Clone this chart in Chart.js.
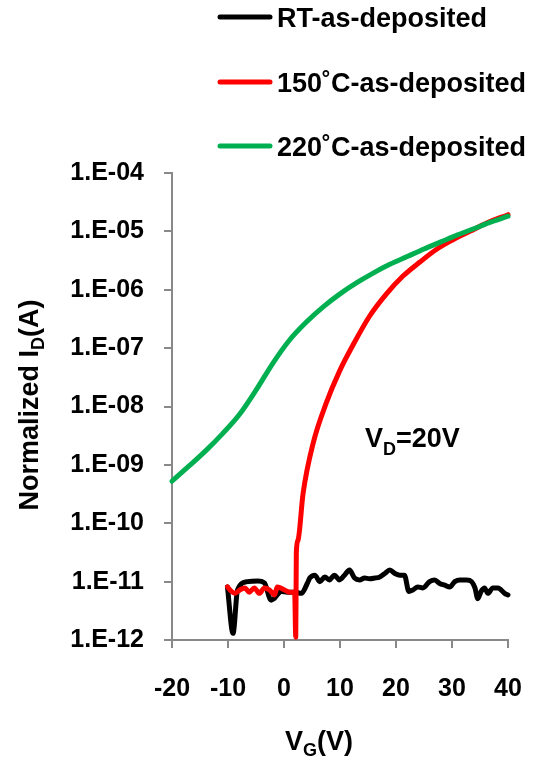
<!DOCTYPE html>
<html>
<head>
<meta charset="utf-8">
<script src="https://cdn.jsdelivr.net/npm/chart.js@4.4.1/dist/chart.umd.min.js"></script>
<style>
  body { margin: 0; background: #fff; }
  #wrap { width: 535px; height: 765px; position: relative; }
</style>
</head>
<body>
<div id="wrap"><canvas id="myChart"></canvas></div>
<script>
const seriesNames = ["RT-as-deposited", "150˚C-as-deposited", "220˚C-as-deposited"]
const seriesColors = ["#000000", "#ff0000", "#00b050"]

// RT-as-deposited
const vgRT = [-10.1, -9.1, -8.3, -6.5, -4.7, -3.5, -2.3, -1.7, -0.5, 0.6, 1.9, 3.1, 4.2, 4.6, 5.5,
  6.4, 7.3, 8.1, 9.0, 9.9, 10.8, 11.7, 12.6, 13.5, 14.4, 15.3, 16.2, 17.1, 18.0, 18.9, 19.8,
  20.7, 21.5, 22.3, 23.0, 23.9, 24.8, 26.0, 26.9, 27.8, 28.7, 29.6, 30.5, 31.4, 32.6, 33.5,
  34.1, 34.6, 35.2, 35.8, 36.4, 37.3, 38.2, 39.4, 40.0]
const idRT = [8.1e-12, 1.3e-12, 7.2e-12, 1.0e-11, 1.02e-11, 9.5e-12, 4.8e-12, 5.2e-12, 6.8e-12, 6.6e-12, 6.6e-12, 6.3e-12, 9.5e-12, 1.15e-11, 1.29e-11,
  1.0e-11, 1.2e-11, 1.07e-11, 1.29e-11, 1.07e-11, 1.29e-11, 1.58e-11, 1.15e-11, 1.07e-11, 1.15e-11, 1.12e-11, 1.15e-11, 1.2e-11, 1.38e-11, 1.58e-11, 1.38e-11,
  1.29e-11, 1.29e-11, 6.8e-12, 7.2e-12, 8.1e-12, 7.8e-12, 1.0e-11, 1.07e-11, 9.3e-12, 8.7e-12, 8.1e-12, 1.0e-11, 1.07e-11, 1.07e-11, 1.0e-11,
  7.8e-12, 5.1e-12, 6.8e-12, 7.8e-12, 6.3e-12, 7.8e-12, 7.8e-12, 6.3e-12, 5.9e-12]

// 150˚C-as-deposited
const vg150 = [-10.1, -9.4, -8.8, -7.9, -7.0, -6.2, -5.3, -4.4, -3.5, -2.6, -1.7, -1.2, 0.1, 1.0, 1.9,
  2.1, 2.2, 2.5, 3.4, 5.2, 7.55, 9.9, 12.3, 15.3, 18.3, 21.2, 24.2, 27.2, 30.2, 33.2, 36.1, 40.0]
const id150 = [8.1e-12, 6.8e-12, 6.3e-12, 7.2e-12, 7.8e-12, 6.6e-12, 7.8e-12, 6.3e-12, 7.8e-12, 7.2e-12, 5.9e-12, 8.1e-12, 7.2e-12, 6.6e-12, 6.6e-12,
  1.12e-12, 3.1e-11, 5.1e-11, 3.2e-10, 2.34e-9, 1.15e-8, 4.0e-8, 1.12e-7, 3.55e-7, 8.5e-7, 1.7e-6, 2.95e-6, 4.9e-6, 7.2e-6, 1.0e-5, 1.38e-5, 1.93e-5]

// 220˚C-as-deposited
const vg220 = [-20, -17, -14, -11, -8, -5, -2, 1, 4, 7, 10, 13, 16, 19, 22, 25, 28, 31, 34, 37, 40]
const id220 = [5.25e-10, 9.5e-10, 1.74e-9, 3.4e-9, 7.2e-9, 1.9e-8, 5.5e-8, 1.38e-7, 2.8e-7, 5.1e-7, 8.5e-7,
  1.32e-6, 1.95e-6, 2.75e-6, 3.7e-6, 5.0e-6, 6.6e-6, 8.7e-6, 1.12e-5, 1.45e-5, 1.82e-5]

const xTickValues = [-20, -10, 0, 10, 20, 30, 40]
const yTickValues = [1e-12, 1e-11, 1e-10, 1e-9, 1e-8, 1e-7, 1e-6, 1e-5, 1e-4]
const yTickLabels = ["1.E-12", "1.E-11", "1.E-10", "1.E-09", "1.E-08", "1.E-07", "1.E-06", "1.E-05", "1.E-04"]

const FONT = '"Liberation Sans", Arial, sans-serif'
const axisGray = "#898989"

function toPoints(xs, ys) {
  return xs.map((x, i) => ({ x: x, y: ys[i] }))
}

const seriesData = [toPoints(vgRT, idRT), toPoints(vg150, id150), toPoints(vg220, id220)]

// draws text pieces, some as subscripts, starting at x,y (alphabetic baseline)
function drawParts(ctx, parts, x, y, size, subSize, subDrop) {
  let cx = x
  parts.forEach(p => {
    ctx.font = "bold " + (p.sub ? subSize : size) + "px " + FONT
    ctx.fillText(p.t, cx, p.sub ? y + subDrop : y)
    cx += ctx.measureText(p.t).width
  })
}
function partsWidth(ctx, parts, size, subSize) {
  let w = 0
  parts.forEach(p => {
    ctx.font = "bold " + (p.sub ? subSize : size) + "px " + FONT
    w += ctx.measureText(p.t).width
  })
  return w
}

const textPlugin = {
  id: "textPlugin",
  afterDraw(chart) {
    const ctx = chart.ctx
    ctx.save()
    ctx.fillStyle = "#000"
    ctx.textBaseline = "alphabetic"
    ctx.textAlign = "left"

    // legend
    const legendY = [17, 82, 146]
    seriesNames.forEach((name, i) => {
      ctx.strokeStyle = seriesColors[i]
      ctx.lineWidth = 5
      ctx.lineCap = "round"
      ctx.beginPath()
      ctx.moveTo(220, legendY[i])
      ctx.lineTo(270, legendY[i])
      ctx.stroke()
      ctx.font = "bold 27px " + FONT
      ctx.fillText(name, 277, legendY[i] + 10)
    })

    // note inside plot
    drawParts(ctx, [{ t: "V" }, { t: "D", sub: true }, { t: "=20V" }], 365, 447, 27, 18, 8)

    // x axis title
    const xt = [{ t: "V" }, { t: "G", sub: true }, { t: "(V)" }]
    drawParts(ctx, xt, 285, 750, 27, 18, 6)

    // y axis title (rotated)
    const yt = [{ t: "Normalized I" }, { t: "D", sub: true }, { t: "(A)" }]
    ctx.translate(38, 405)
    ctx.rotate(-Math.PI / 2)
    const w = partsWidth(ctx, yt, 27, 18)
    drawParts(ctx, yt, -w / 2, 0, 27, 18, 6)
    ctx.restore()
  }
}

const config = {
  type: "line",
  data: {
    datasets: seriesNames.map((name, i) => ({
      label: name,
      data: seriesData[i],
      borderColor: seriesColors[i],
      backgroundColor: seriesColors[i],
      borderWidth: 5,
      pointRadius: 0,
      cubicInterpolationMode: "monotone",
      borderCapStyle: "round",
      borderJoinStyle: "round",
      order: 2 - i,
      clip: false,
    })),
  },
  options: {
    responsive: true,
    maintainAspectRatio: false,
    animation: false,
    layout: { padding: { top: 173, right: 27, left: 0, bottom: 0 } },
    plugins: {
      legend: { display: false },
      tooltip: { enabled: false },
    },
    scales: {
      x: {
        type: "linear",
        min: -20,
        max: 40,
        afterBuildTicks: scale => { scale.ticks = xTickValues.map(v => ({ value: v })) },
        afterFit: scale => {
          scale.height = 125
          scale.paddingLeft = 0
          scale.paddingRight = 0
        },
        ticks: {
          color: "#000",
          font: { family: FONT, size: 25, weight: "bold" },
          padding: 26,
          maxRotation: 0,
          callback: v => String(v),
        },
        grid: { drawOnChartArea: false, drawTicks: true, tickLength: 8, color: axisGray, lineWidth: 2 },
        border: { color: axisGray, width: 2 },
      },
      y: {
        type: "logarithmic",
        min: 1e-12,
        max: 1e-4,
        afterBuildTicks: scale => { scale.ticks = yTickValues.map(v => ({ value: v, major: true })) },
        afterFit: scale => { scale.width = 172 },
        ticks: {
          color: "#000",
          font: { family: FONT, size: 25, weight: "bold" },
          padding: 20,
          autoSkip: false,
          callback: (v, i) => yTickLabels[i],
        },
        grid: { drawOnChartArea: false, drawTicks: true, tickLength: 8, color: axisGray, lineWidth: 2 },
        border: { color: axisGray, width: 2 },
      },
    },
  },
  plugins: [textPlugin],
}

const MyChart = new Chart(document.getElementById("myChart"), config)
</script>
</body>
</html>
